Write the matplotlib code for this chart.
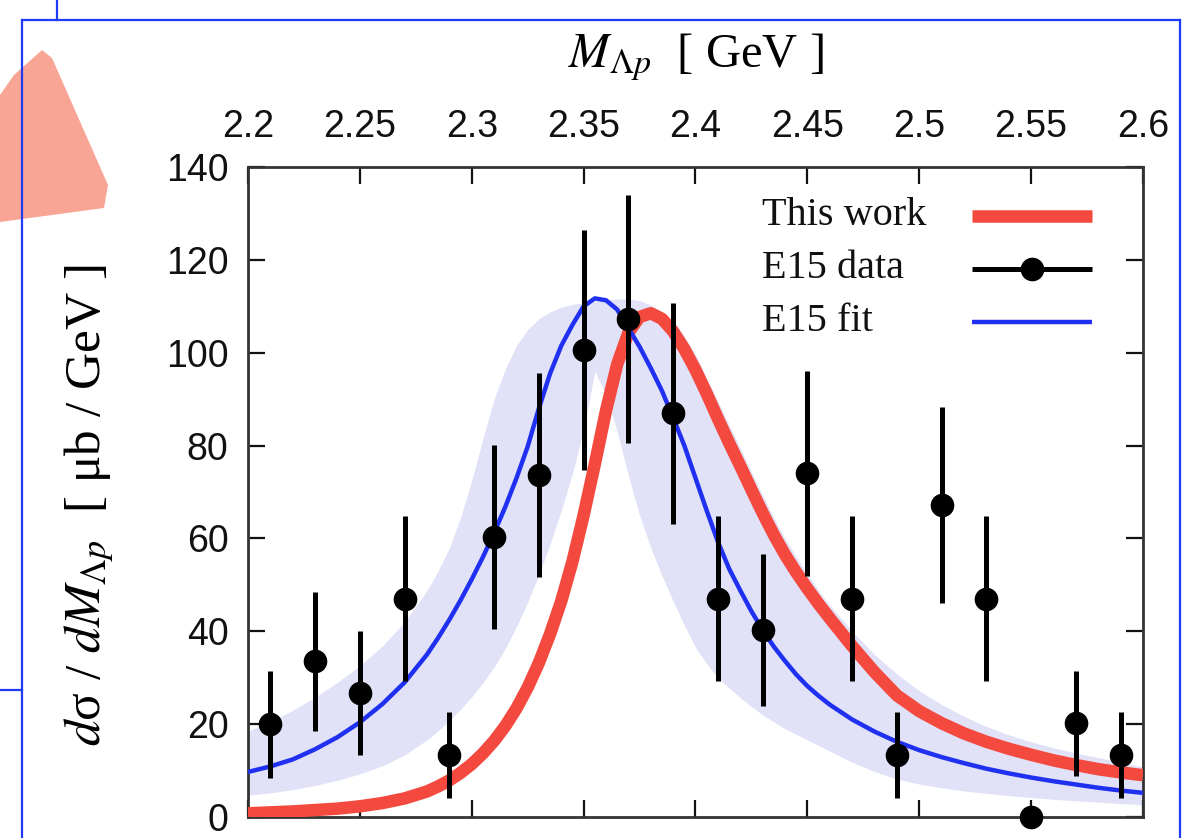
import matplotlib
matplotlib.use('Agg')
import matplotlib.pyplot as plt
from matplotlib.lines import Line2D
from matplotlib.patches import Polygon

# E15 data points
mass = [2.21, 2.23, 2.25, 2.27, 2.29, 2.31, 2.33, 2.35, 2.37, 2.39,
        2.41, 2.43, 2.45, 2.47, 2.49, 2.51, 2.53, 2.55, 2.57, 2.59]
xsec = [20.0, 33.5, 26.7, 47.0, 13.4, 60.3, 73.7, 100.6, 107.2, 87.0,
        47.0, 40.3, 74.0, 47.0, 13.4, 67.2, 47.0, 0.0, 20.2, 13.4]
xsec_err = [11.5, 15.0, 13.3, 17.8, 9.2, 19.8, 22.0, 25.9, 26.7, 23.8,
            17.8, 16.4, 22.0, 17.8, 9.2, 21.0, 17.8, 0.0, 11.3, 9.2]

# curves
curve_mass = [2.20, 2.21, 2.22, 2.23, 2.24, 2.25, 2.26, 2.27,
              2.28, 2.285, 2.29, 2.295, 2.30, 2.305, 2.31, 2.315, 2.32, 2.325,
              2.33, 2.335, 2.34, 2.345, 2.35, 2.355, 2.36, 2.365, 2.37, 2.375,
              2.38, 2.385, 2.39, 2.395, 2.40, 2.405, 2.41, 2.415, 2.42, 2.425,
              2.43, 2.435, 2.44, 2.445, 2.45, 2.455, 2.46,
              2.47, 2.48, 2.49, 2.50, 2.51, 2.52, 2.53, 2.54, 2.55, 2.56,
              2.57, 2.58, 2.59, 2.60]
this_work = [0.8, 1.0, 1.2, 1.5, 1.8, 2.3, 3.0, 4.0,
             5.5, 6.6, 7.9, 9.5, 11.4, 13.7, 16.4, 19.6, 23.4, 27.9,
             33.2, 39.4, 46.5, 55.0, 65.0, 76.0, 87.5, 97.5, 104.3, 107.7,
             108.5, 107.3, 104.6, 100.8, 96.3, 91.2, 85.8, 80.6, 75.6, 70.5,
             65.5, 60.8, 56.5, 52.7, 49.2, 45.9, 42.8,
             36.8, 31.2, 26.2, 22.8, 20.2, 18.0, 16.2, 14.7, 13.4, 12.2,
             11.2, 10.3, 9.6, 9.0]
e15_fit = [9.7, 10.9, 12.4, 14.6, 17.2, 20.4, 24.3, 29.0,
           35.0, 38.6, 42.5, 46.7, 51.2, 56.0, 61.2, 66.8, 73.0, 79.8,
           88.0, 95.5, 101.5, 106.0, 110.0, 111.7, 111.3, 109.3, 105.3, 101.3,
           96.7, 91.8, 86.0, 80.0, 73.0, 66.0, 59.3, 53.5, 48.8, 44.3,
           40.3, 36.7, 33.6, 30.7, 28.2, 26.1, 24.2,
           21.0, 18.4, 16.2, 14.4, 12.9, 11.6, 10.4, 9.4, 8.5, 7.7,
           7.0, 6.3, 5.7, 5.2]
fit_low = [4.7, 5.2, 5.9, 6.8, 7.9, 9.3, 11.0, 13.4,
           16.6, 18.6, 20.8, 23.2, 25.9, 28.9, 32.3, 36.3, 41.0, 46.3,
           52.2, 58.8, 66.0, 74.0, 83.5, 96.0, 91.0, 83.0, 73.5, 65.0,
           58.0, 52.0, 46.5, 41.3, 36.5, 33.0, 30.0, 27.8, 25.7, 23.8,
           22.0, 20.5, 19.0, 17.8, 16.6, 15.4, 14.2,
           11.8, 9.8, 8.2, 7.1, 6.3, 5.6, 5.1, 4.6, 4.2, 3.8,
           3.5, 3.2, 2.9, 2.6]
fit_high = [18.5, 20.5, 23.0, 25.8, 29.0, 32.6, 36.8, 42.0,
            48.8, 53.0, 58.0, 64.5, 72.5, 81.5, 90.0, 96.5, 101.5, 105.0,
            107.3, 108.8, 109.8, 110.4, 110.8, 111.1, 111.4, 111.6, 111.6, 111.2,
            110.3, 108.8, 106.7, 103.5, 99.5, 94.5, 89.5, 84.5, 79.5, 74.3,
            69.3, 64.5, 60.0, 56.0, 52.3, 48.8, 45.6,
            40.0, 35.0, 30.8, 27.2, 24.2, 21.7, 19.5, 17.7, 16.2, 14.9,
            13.8, 12.8, 11.8, 10.8]

x_ticks = [2.2, 2.25, 2.3, 2.35, 2.4, 2.45, 2.5, 2.55, 2.6]
x_ticklabels = ['2.2', '2.25', '2.3', '2.35', '2.4', '2.45', '2.5', '2.55', '2.6']
y_ticks = [0, 20, 40, 60, 80, 100, 120, 140]
legend_labels = ['This work', 'E15 data', 'E15 fit']

RED = '#f4493f'
BLUE = '#1f30f0'
BAND = '#e1e1f7'
SERIF = 'Liberation Serif'

plt.rcParams['font.family'] = 'Liberation Sans'
plt.rcParams['mathtext.fontset'] = 'stix'

W, H = 1185, 838
fig = plt.figure(figsize=(W / 100, H / 100), dpi=100)
ax = fig.add_axes([248 / W, 1 - 817 / H, (1143 - 248) / W, (817 - 167) / H])

ax.fill_between(curve_mass, fit_low, fit_high, color=BAND, lw=0, zorder=1)
ax.plot(curve_mass, this_work, color=RED, lw=9, solid_capstyle='butt',
        solid_joinstyle='round', zorder=3)
ax.plot(curve_mass, e15_fit, color=BLUE, lw=3.2, solid_joinstyle='round', zorder=4)
eb = ax.errorbar(mass, xsec, yerr=xsec_err, fmt='o', color='k', ms=16,
                 elinewidth=3.6, capsize=0, zorder=5)
eb[0].set_clip_on(False)
for b in eb[2]:
    b.set_clip_on(False)

ax.set_xlim(2.2, 2.6)
ax.set_ylim(0, 140)
ax.set_xticks(x_ticks)
ax.set_xticklabels(x_ticklabels)
ax.set_yticks(y_ticks)
ax.tick_params(axis='both', direction='in', length=12, width=1.6,
               labelsize=27, colors='#111111', top=True, right=True)
ax.tick_params(axis='x', labeltop=True, labelbottom=False, pad=16)
ax.tick_params(axis='y', pad=14)
for s in ax.spines.values():
    s.set_linewidth(2.0)
    s.set_color('#333333')

ax.xaxis.set_label_position('top')
ax.set_xlabel(r'$M_{\Lambda p}$  [ GeV ]', fontsize=35, family=SERIF, labelpad=30)
ax.set_ylabel(r'$d$σ / $dM_{\Lambda p}$  [ μb / GeV ]', fontsize=37,
              family=SERIF)
ax.yaxis.set_label_coords(-0.148, 0.48)

# gnuplot-style key: text left-aligned, sample to its right
key_styles = [dict(color=RED, lw=9),
              dict(color='k', lw=3.6, marker='o', ms=16, markevery=[1]),
              dict(color=BLUE, lw=3.2)]
for i, (lab, st) in enumerate(zip(legend_labels, key_styles)):
    yk = 0.925 - i * 0.0815
    ax.text(0.574, yk, lab, transform=ax.transAxes, family=SERIF,
            fontsize=29, va='center', ha='left', color='#111111')
    ax.add_line(Line2D([0.809, 0.876, 0.943], [yk, yk, yk],
                       transform=ax.transAxes, solid_capstyle='butt',
                       zorder=6, **st))

# screenshot leftovers around the chart
def px(x, y):
    return x / W, 1 - y / H

frame = '#1f3cf5'
for (x0, y0), (x1, y1) in [((22, 20), (1180, 20)), ((22, 20), (22, 838)),
                           ((1180, 20), (1180, 838)), ((0, 690), (22, 690)),
                           ((57, 0), (57, 20))]:
    a, b = px(x0, y0)
    c, d = px(x1, y1)
    fig.add_artist(Line2D([a, c], [b, d], color=frame, lw=1.6,
                          transform=fig.transFigure))
shape = [px(0, 95), px(14, 75), px(42, 50), px(52, 58), px(108, 185),
         px(104, 208), px(0, 222)]
fig.add_artist(Polygon(shape, closed=True, color='#f8a596', lw=0,
                       transform=fig.transFigure, zorder=0))

fig.savefig('out.png', dpi=100)
